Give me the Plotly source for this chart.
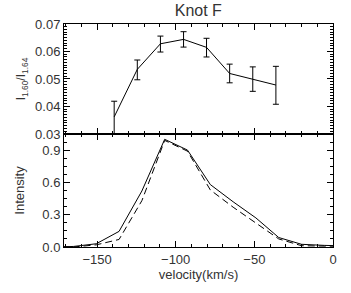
import plotly.graph_objects as go
from plotly.subplots import make_subplots

# Top panel: line ratio with error bars
vel_ratio = [-139.1, -124.4, -109.7, -95.0, -80.4, -65.7, -51.0, -36.3]
ratio = [0.0362, 0.0535, 0.0628, 0.0644, 0.0615, 0.0520, 0.0499, 0.0478]
ratio_err_plus = [0.0057, 0.0034, 0.0028, 0.0028, 0.0033, 0.0034, 0.0045, 0.0068]
ratio_err_minus = [0.0075, 0.0038, 0.0030, 0.0028, 0.0035, 0.0034, 0.0044, 0.0070]

# Bottom panel: normalised line profiles
vel_prof = [-179.5, -165.0, -150.5, -136.0, -121.5, -107.0, -92.5, -78.0, -63.5, -49.0, -34.5, -20.0, -5.5, 9.0]
prof_solid = [0.0, 0.005, 0.03, 0.145, 0.52, 1.0, 0.90, 0.58, 0.42, 0.27, 0.088, 0.025, 0.015, 0.01]
prof_dashed = [0.0, 0.0, 0.02, 0.07, 0.43, 0.99, 0.89, 0.53, 0.37, 0.22, 0.075, 0.012, 0.005, 0.005]

title_text = "Knot F"
xlabel = "velocity(km/s)"
ylabel_top = "I<sub>1.60</sub>/I<sub>1.64</sub>"
ylabel_bot = "Intensity"
xticks = [-150, -100, -50, 0]
xticklabels = ["\u2212150", "\u2212100", "\u221250", "0"]
yticks_top = [0.03, 0.04, 0.05, 0.06, 0.07]
yticks_bot = [0.0, 0.3, 0.6, 0.9]

fig = make_subplots(rows=2, cols=1, shared_xaxes=True, vertical_spacing=0.0,
                    row_heights=[0.493, 0.507])

fig.add_trace(go.Scatter(
    x=vel_ratio, y=ratio, mode="lines",
    line=dict(color="black", width=1),
    error_y=dict(type="data", symmetric=False, array=ratio_err_plus,
                 arrayminus=ratio_err_minus, color="black", thickness=1, width=3),
    showlegend=False), row=1, col=1)

fig.add_trace(go.Scatter(
    x=vel_prof, y=prof_solid, mode="lines",
    line=dict(color="black", width=1), showlegend=False), row=2, col=1)
fig.add_trace(go.Scatter(
    x=vel_prof, y=prof_dashed, mode="lines",
    line=dict(color="black", width=1, dash="7px,4px"), showlegend=False), row=2, col=1)

font = dict(family="Liberation Sans, Arial, sans-serif", size=13, color="#333")

axis_common = dict(showline=True, linecolor="black", linewidth=1, mirror="allticks",
                   ticks="inside", tickcolor="black", showgrid=False, zeroline=False,
                   tickfont=font)

fig.update_xaxes(**axis_common, range=[-171, 0], tickvals=xticks, ticktext=xticklabels,
                 ticklen=6,
                 minor=dict(ticks="inside", dtick=10, tick0=0, ticklen=3, tickcolor="black"))
fig.update_xaxes(showticklabels=False, row=1, col=1)
fig.update_xaxes(showticklabels=True, row=2, col=1,
                 title=dict(text=xlabel, font=font, standoff=4))

fig.update_yaxes(**axis_common, row=1, col=1, range=[0.03, 0.07], tickvals=yticks_top,
                 tickformat=".2f", ticklen=6,
                 minor=dict(ticks="inside", dtick=0.001, ticklen=3, tickcolor="black"),
                 title=dict(text=ylabel_top, font=dict(family=font["family"], size=12, color="#333"), standoff=6))
fig.update_yaxes(**axis_common, row=2, col=1, range=[0.0, 1.05], tickvals=yticks_bot,
                 tickformat=".1f", ticklen=6,
                 minor=dict(ticks="inside", dtick=0.075, tick0=0, ticklen=3, tickcolor="black"),
                 title=dict(text=ylabel_bot, font=font, standoff=14))

fig.update_layout(
    width=351, height=293,
    margin=dict(l=64, r=18, t=24, b=46),
    paper_bgcolor="white", plot_bgcolor="white",
    title=dict(text=title_text, x=0.565, xanchor="center", y=0.966, yanchor="middle",
               font=dict(family=font["family"], size=16, color="#333")),
)

fig.write_html("out.html", config={"displayModeBar": False},
               post_script="document.body.style.margin='0';")
